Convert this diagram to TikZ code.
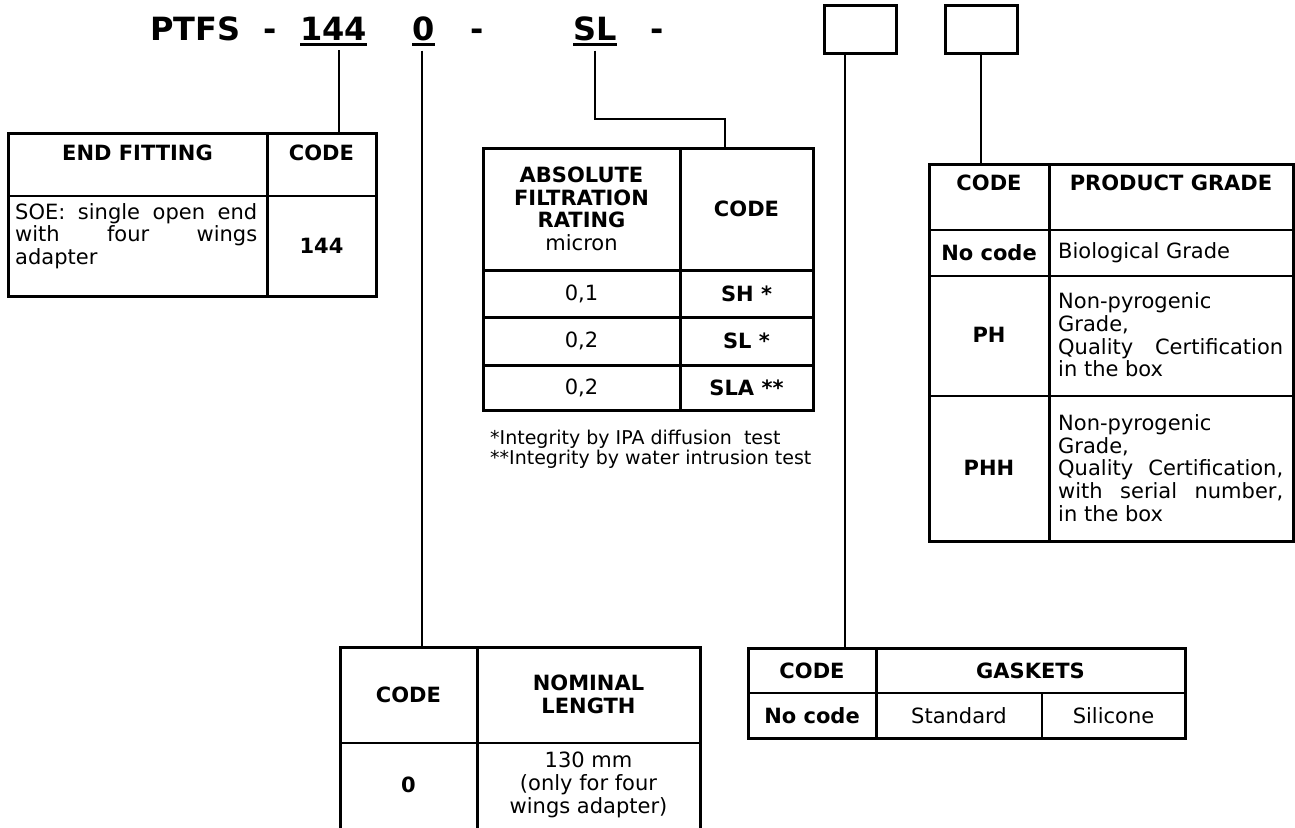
\documentclass[tikz,border=0pt]{standalone}
\usepackage{fontspec}
\setmainfont{DejaVu Sans}
\usetikzlibrary{positioning}

% justified line of a given width
\newcommand{\jline}[2]{\makebox[#1][s]{#2}}

\begin{document}
\begin{tikzpicture}[x=1pt, y=-1pt,
    frame/.style={line width=3pt},
    rule/.style={line width=1.5pt},
    link/.style={line width=2pt},
    slot/.style={draw, line width=3pt, minimum width=72pt, minimum height=48pt, inner sep=0pt},
    title/.style={font=\fontsize{32}{32}\selectfont\bfseries, inner sep=0pt, anchor=base west},
    head/.style={font=\fontsize{21}{22.7}\selectfont\bfseries, align=center, inner sep=0pt},
    body/.style={font=\fontsize{21}{22.7}\selectfont, align=center, inner sep=0pt},
    cell/.style={font=\fontsize{21}{22.7}\selectfont, align=left, inner sep=0pt, anchor=west},
    note/.style={font=\fontsize{19}{18}\selectfont, align=left, inner sep=0pt, anchor=north west}
]
\useasboundingbox (0,0) rectangle (1295,827);

% Code line
\node[title] (ptfs) at (150,40) {PTFS};
\node[title] (dashA) at (263,40) {-};
\node[title] (code144) at (300,40) {144};
\node[title] (code0) at (412,40) {0};
\node[title] (dashB) at (470,40) {-};
\node[title] (codeSL) at (573,40) {SL};
\node[title] (dashC) at (650,40) {-};
\node[slot] (slotA) at (860.5,29.5) {};
\node[slot] (slotB) at (981,29.5) {};

% underlines
\foreach \c in {code144, code0, codeSL}
  \draw[line width=3pt] ([yshift=-4.5pt]\c.base west) -- ([yshift=-4.5pt]\c.base east);

% End fitting table
\draw[frame] (8,133) rectangle (376,296);
\draw[frame] (267,133) -- (267,296);
\draw[rule] (8,196) -- (376,196);
\node[head] (efHead) at (137.5,153) {END FITTING};
\node[head] (efCode) at (321.5,153) {CODE};
\node[cell] (efText) at (15,236) {\jline{242pt}{SOE: single open end}\\\jline{242pt}{with four wings}\\adapter};
\node[head] (ef144) at (321.5,246) {144};
\coordinate (efTop) at (339,133);

% Filtration rating table
\draw[frame] (483,148) rectangle (813,410);
\draw[frame] (680,148) -- (680,410);
\draw[frame] (483,270) -- (813,270);
\draw[frame] (483,317) -- (813,317);
\draw[frame] (483,365) -- (813,365);
\node[body] (afHead) at (581.5,209) {\textbf{ABSOLUTE}\\\textbf{FILTRATION}\\\textbf{RATING}\\micron};
\node[head] (afCode) at (746.5,209) {CODE};
\node[body] (afA) at (581.5,293.5) {0,1};
\node[head] (afSH) at (746.5,293.5) {SH *};
\node[body] (afB) at (581.5,341) {0,2};
\node[head] (afSL) at (746.5,341) {SL *};
\node[body] (afC) at (581.5,387.5) {0,2};
\node[head] (afSLA) at (746.5,387.5) {SLA **};
\node[note] (afNote) at (490,430) {*Integrity by IPA diffusion~ test\\**Integrity by water intrusion test};
\coordinate (afTop) at (725,148);

% Product grade table
\draw[frame] (929,164) rectangle (1293,541);
\draw[frame] (1049,164) -- (1049,541);
\draw[rule] (929,230) -- (1293,230);
\draw[rule] (929,276) -- (1293,276);
\draw[rule] (929,396) -- (1293,396);
\node[head] (pgCode) at (989,183) {CODE};
\node[head] (pgHead) at (1171,183) {PRODUCT GRADE};
\node[head] (pgNo) at (989,253) {No code};
\node[cell] (pgBio) at (1058,253) {Biological Grade};
\node[head] (pgPH) at (989,335) {PH};
\node[cell] (pgPHtext) at (1058,335) {Non-pyrogenic\\Grade,\\\jline{225pt}{Quality Certification}\\in the box};
\node[head] (pgPHH) at (989,468) {PHH};
\node[cell] (pgPHHtext) at (1058,468) {Non-pyrogenic\\Grade,\\\jline{225pt}{Quality Certification,}\\\jline{225pt}{with serial number,}\\in the box};
\coordinate (pgTop) at (981,164);

% Nominal length table
\draw[frame] (340,830) -- (340,647) -- (700,647) -- (700,830);
\draw[frame] (477,647) -- (477,830);
\draw[rule] (340,743) -- (700,743);
\node[head] (nlCode) at (408.5,695) {CODE};
\node[head] (nlHead) at (588.5,694) {NOMINAL\\LENGTH};
\node[head] (nl0) at (408.5,785) {0};
\node[body] (nlText) at (588.5,785) {130 mm\\(only for four\\wings adapter)};
\coordinate (nlTop) at (422,647);

% Gaskets table
\draw[frame] (748,648) rectangle (1185,738);
\draw[frame] (876,648) -- (876,738);
\draw[rule] (748,693) -- (1185,693);
\draw[rule] (1042,693) -- (1042,738);
\node[head] (gkCode) at (812,670.5) {CODE};
\node[head] (gkHead) at (1030.5,670.5) {GASKETS};
\node[head] (gkNo) at (812,715.5) {No code};
\node[body] (gkStd) at (959,715.5) {Standard};
\node[body] (gkSil) at (1113.5,715.5) {Silicone};
\coordinate (gkTop) at (845,648);

% Connectors
\draw[link, shorten <=10pt] (code144.south -| efTop) -- (efTop);
\draw[link, shorten <=10pt] (code0.south -| nlTop) -- (nlTop);
\draw[link, shorten <=10pt] (codeSL.south) -- ++(0,78) -| (afTop);
\draw[link] (gkTop |- slotA.south) -- (gkTop);
\draw[link] (slotB.south) -- (pgTop);

\end{tikzpicture}
\end{document}
